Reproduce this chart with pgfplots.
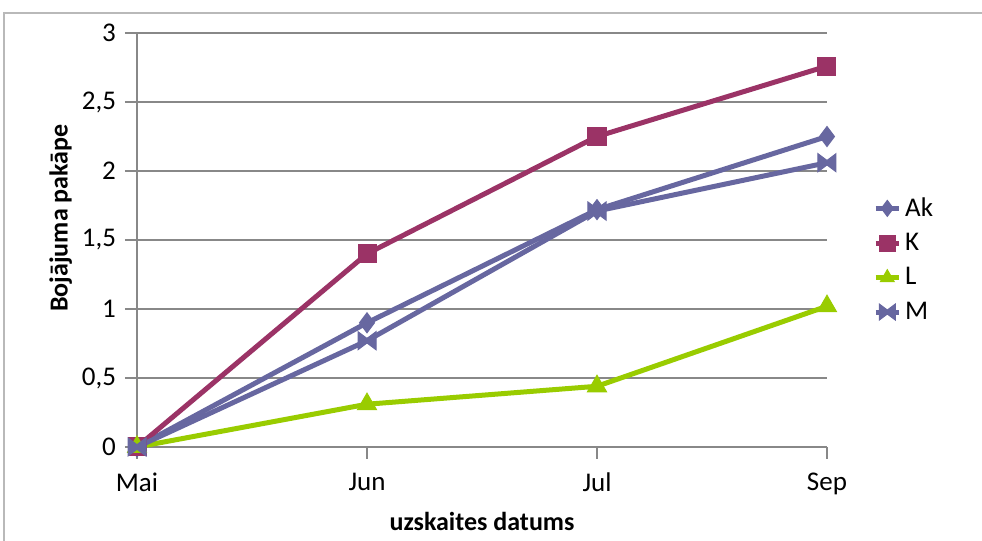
\documentclass[border=0pt]{standalone}
\usepackage{fontspec}
\setmainfont{Carlito}
\usepackage{pgfplots}
\pgfplotsset{compat=1.18}

\definecolor{cAk}{HTML}{6767A0}
\definecolor{cK}{HTML}{9B3366}
\definecolor{cL}{HTML}{99CC00}
\definecolor{cGrid}{HTML}{888888}

% bow-tie mark for series M
\pgfdeclareplotmark{bowtie}{%
  \pgfpathmoveto{\pgfpoint{-\pgfplotmarksize}{-\pgfplotmarksize}}%
  \pgfpathlineto{\pgfpoint{-\pgfplotmarksize}{\pgfplotmarksize}}%
  \pgfpathlineto{\pgfpoint{0pt}{0.25\pgfplotmarksize}}%
  \pgfpathlineto{\pgfpoint{\pgfplotmarksize}{\pgfplotmarksize}}%
  \pgfpathlineto{\pgfpoint{\pgfplotmarksize}{-\pgfplotmarksize}}%
  \pgfpathlineto{\pgfpoint{0pt}{-0.25\pgfplotmarksize}}%
  \pgfpathclose
  \pgfusepathqfillstroke}

\begin{document}
\begin{tikzpicture}[x=0.5pt,y=0.5pt]
% page = 982 x 541 px, 1px = 0.5pt
\path[use as bounding box] (0,0) rectangle (982,541);
\draw[gray!55, line width=1pt] (4,-10) -- (4,528) -- (1000,528);

\begin{axis}[
    at={(137*0.5pt,94*0.5pt)}, anchor=south west,
    scale only axis,
    width=345pt, height=207pt,
    xmin=0, xmax=3, ymin=0, ymax=3,
    xtick={0,1,2,3},
    xticklabels={Mai,Jun,Jul,Sep},
    ytick={0,0.5,1,1.5,2,2.5,3},
    /pgf/number format/use comma,
    /pgf/number format/assume math mode=true,
    tick label style={font=\fontsize{13.5}{15}\selectfont},
    tick align=outside,
    major tick length=6pt,
    tick style={cGrid, line width=0.6pt},
    xtick pos=bottom, ytick pos=left,
    axis x line*=bottom, axis y line*=left,
    axis line style={cGrid, line width=0.6pt, -},
    ymajorgrids,
    grid style={cGrid, line width=0.6pt},
    xticklabel style={yshift=-3.5pt},
    yticklabel style={xshift=-1pt},
    xlabel={\bfseries uzskaites datums},
    ylabel={\bfseries Bojājuma pakāpe},
    label style={font=\fontsize{13}{15}\selectfont},
    xlabel style={yshift=-2pt},
    ylabel style={at={(ticklabel cs:0.553)}, yshift=-2pt},
    legend style={draw=none, fill=none, at={(1.058,0.623)}, anchor=north west,
        font=\fontsize{13.5}{15}\selectfont, row sep=3pt,
        legend cell align=left},
    legend image code/.code={
        \draw[#1] (0pt,0pt) -- (0.2cm,0pt);
        \draw[#1, mark repeat=2, mark phase=2, mark size=4pt] plot coordinates {(0pt,0pt) (0.2cm,0pt) (0.4cm,0pt)};
    },
    every axis plot/.append style={line width=2.5pt, mark options={solid, line width=0.5pt}},
    clip=false,
]
\addplot[cAk, mark=diamond*, mark size=5pt] coordinates {
    (0,0) (1,0.9) (2,1.72) (3,2.25)
};
\addlegendentry{Ak}
\addplot[cK, mark=square*, mark size=4.5pt] coordinates {
    (0,0) (1,1.4) (2,2.25) (3,2.76)
};
\addlegendentry{K}
\addplot[cL, mark=triangle*, mark size=5.5pt] coordinates {
    (0,0) (1,0.31) (2,0.44) (3,1.02)
};
\addlegendentry{L}
\addplot[cAk, mark=bowtie, mark size=4.5pt] coordinates {
    (0,0) (1,0.77) (2,1.71) (3,2.06)
};
\addlegendentry{M}
\end{axis}
\end{tikzpicture}
\end{document}
